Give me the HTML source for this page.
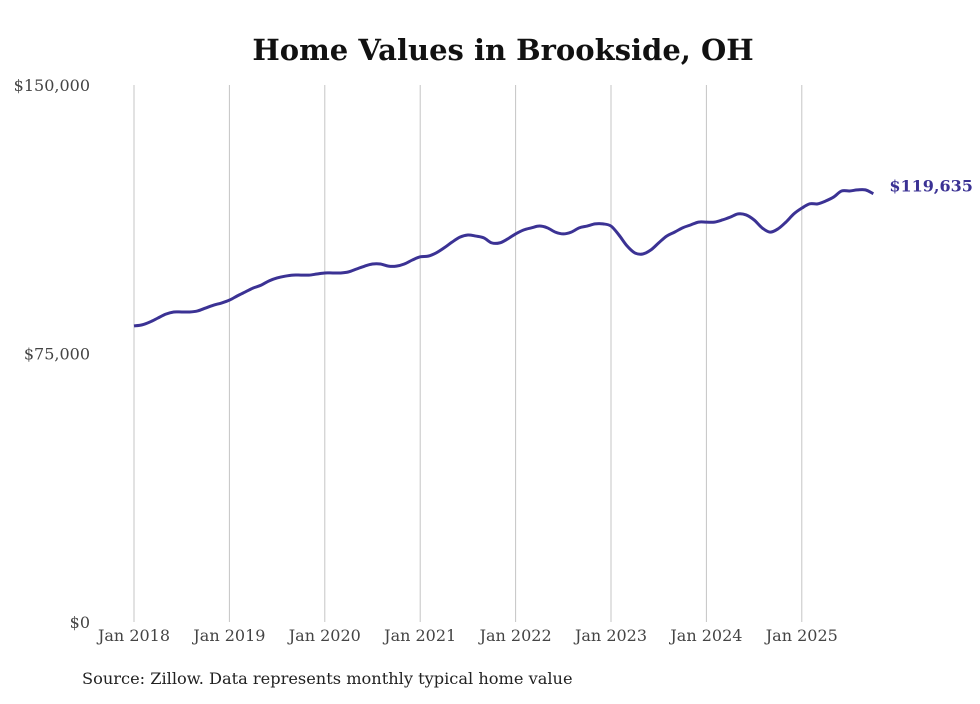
<!DOCTYPE html>
<html><head><meta charset="utf-8"><style>
body{margin:0;background:#fff;width:980px;height:699px;overflow:hidden}
svg text{font-family:"DejaVu Serif","Liberation Serif",serif}
</style></head><body>
<svg width="980" height="699" id="chart">
<text x="503" y="60" text-anchor="middle" font-size="29" font-weight="bold" fill="#111">Home Values in Brookside, OH</text>
<g id="grid"></g><g id="ylab"></g><g id="xlab"></g>
<path id="line" fill="none" stroke="#3b3294" stroke-width="3"></path>
<text id="endlabel" font-size="16" font-weight="bold" fill="#3b3294"></text>
<text x="82" y="684" font-size="16.2" fill="#222">Source: Zillow. Data represents monthly typical home value</text>
</svg>
<script>
const yTicks=[0,75000,150000];
const yTickLabels=["$0","$75,000","$150,000"];
const xTickYears=[2018,2019,2020,2021,2022,2023,2024,2025];
const startYear=2018;
const values=[
82700,83000,83800,84900,86000,86600,86600,86600,86900,87700,88500,89100,
89900,91100,92200,93300,94100,95300,96100,96600,96900,96900,96900,97200,
97500,97500,97500,97800,98600,99400,100000,100000,99400,99400,100000,101100,
102000,102200,103100,104500,106100,107500,108100,107800,107300,105900,105900,107000,
108400,109500,110100,110600,110100,108900,108400,108900,110100,110600,111200,111200,
110600,108100,105100,103100,102800,103900,105900,107800,108900,110100,110900,111700,
111700,111700,112300,113100,114000,113700,112300,110100,108900,109800,111700,114000,
115600,116800,116800,117600,118700,120400,120400,120700,120700,119635];
const NS="http://www.w3.org/2000/svg";
const y=v=>622-v/150000*537;
const x=m=>134+m*(95.4/12);
const grid=document.getElementById('grid'),yl=document.getElementById('ylab'),xl=document.getElementById('xlab');
yTicks.forEach((t,i)=>{
 const tx=document.createElementNS(NS,'text');
 
 
 tx.setAttribute('x',90);tx.setAttribute('y',y(t)+6);tx.setAttribute('text-anchor','end');
 tx.setAttribute('font-size','16');tx.setAttribute('fill','#444');tx.textContent=yTickLabels[i];yl.appendChild(tx);
});
xTickYears.forEach(yr=>{
 const m=(yr-startYear)*12,px=x(m);
 const ln=document.createElementNS(NS,'line');
 
 
 ln.setAttribute('x1',px);ln.setAttribute('x2',px);ln.setAttribute('y1',85);ln.setAttribute('y2',622);
 ln.setAttribute('stroke','#c4c4c4');ln.setAttribute('stroke-width','1');grid.appendChild(ln);
 const tx=document.createElementNS(NS,'text');
 
 
 tx.setAttribute('x',px);tx.setAttribute('y',641);tx.setAttribute('text-anchor','middle');
 tx.setAttribute('font-size','16');tx.setAttribute('fill','#444');tx.textContent='Jan '+yr;xl.appendChild(tx);
});
const pts=values.map((v,i)=>[x(i),y(v)]);
let d='M'+pts[0][0]+','+pts[0][1];
for(let i=0;i<pts.length-1;i++){
 const p0=pts[Math.max(0,i-1)],p1=pts[i],p2=pts[i+1],p3=pts[Math.min(pts.length-1,i+2)];
 const c1=[p1[0]+(p2[0]-p0[0])/6,p1[1]+(p2[1]-p0[1])/6],c2=[p2[0]-(p3[0]-p1[0])/6,p2[1]-(p3[1]-p1[1])/6];
 d+=` C${c1[0]},${c1[1]} ${c2[0]},${c2[1]} ${p2[0]},${p2[1]}`;
}
document.getElementById('line').setAttribute('d',d);
const last=values[values.length-1],el=document.getElementById('endlabel');
el.setAttribute('x',x(values.length-1)+16);el.setAttribute('y',y(last)-2);
el.textContent='$'+last.toLocaleString('en-US');
</script>
</body></html>
